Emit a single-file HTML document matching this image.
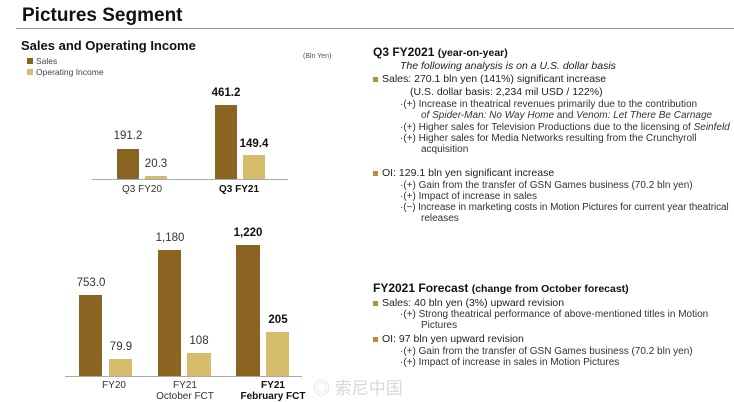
<!DOCTYPE html>
<html><head><meta charset="utf-8"><style>
body{margin:0;width:734px;height:402px;background:#fff;position:relative;overflow:hidden;font-family:"Liberation Sans","Noto Sans CJK SC",sans-serif;color:#222}
.a{position:absolute;white-space:nowrap}
.s{background:#8a6420;position:absolute}
.o{background:#d6bd6b;position:absolute}
.v{position:absolute;font-size:11.5px;width:60px;text-align:center;color:#333}
.b{font-weight:bold;color:#111}
.t{font-size:10px;color:#333}
.m{font-size:10.5px;color:#222}
.sq{display:inline-block;width:5px;height:5px;background:#b48f3e;margin-right:4px;vertical-align:middle}
</style></head><body>
<div class="a" style="left:22px;top:5px;font-size:19px;font-weight:bold;color:#111">Pictures Segment</div>
<div style="position:absolute;left:16px;top:28px;width:718px;height:1px;background:#999"></div>
<div class="a" style="left:21px;top:38px;font-size:13px;font-weight:bold;color:#111">Sales and Operating Income</div>
<div class="a" style="left:27px;top:56px;font-size:8.5px;color:#444"><span style="display:inline-block;width:6px;height:6px;background:#8a6420;margin-right:3px"></span>Sales</div>
<div class="a" style="left:27px;top:67px;font-size:8.5px;color:#444"><span style="display:inline-block;width:6px;height:6px;background:#d6bd6b;margin-right:3px"></span>Operating Income</div>
<div class="a" style="left:303px;top:53px;font-size:7px;color:#555">(Bln Yen)</div>
<div style="position:absolute;left:92px;top:179px;width:196px;height:1px;background:#aaa"></div>
<div class="s" style="left:117px;top:149px;width:22px;height:30px"></div>
<div class="o" style="left:145px;top:176px;width:22px;height:3px"></div>
<div class="s" style="left:215px;top:105px;width:22px;height:74px"></div>
<div class="o" style="left:243px;top:155px;width:22px;height:24px"></div>
<div class="v" style="left:98px;top:130px">191.2</div>
<div class="v" style="left:126px;top:158px">20.3</div>
<div class="v b" style="left:196px;top:87px">461.2</div>
<div class="v b" style="left:224px;top:138px">149.4</div>
<div class="v" style="left:112px;top:184px;font-size:10px">Q3 FY20</div>
<div class="v b" style="left:209px;top:184px;font-size:10px">Q3 FY21</div>
<div style="position:absolute;left:65px;top:376px;width:237px;height:1px;background:#aaa"></div>
<div class="s" style="left:79px;top:295px;width:23px;height:81px"></div>
<div class="o" style="left:109px;top:359px;width:23px;height:17px"></div>
<div class="s" style="left:158px;top:250px;width:23px;height:126px"></div>
<div class="o" style="left:187px;top:353px;width:24px;height:23px"></div>
<div class="s" style="left:236px;top:245px;width:24px;height:131px"></div>
<div class="o" style="left:266px;top:332px;width:23px;height:44px"></div>
<div class="v" style="left:61px;top:277px">753.0</div>
<div class="v" style="left:91px;top:341px">79.9</div>
<div class="v" style="left:140px;top:232px">1,180</div>
<div class="v" style="left:169px;top:335px">108</div>
<div class="v b" style="left:218px;top:227px">1,220</div>
<div class="v b" style="left:248px;top:314px">205</div>
<div class="v" style="left:84px;top:380px;font-size:10px">FY20</div>
<div class="v" style="left:155px;top:380px;font-size:10px;line-height:11px">FY21<br>October FCT</div>
<div class="v b" style="top:380px;font-size:10px;line-height:11px;width:80px;left:233px">FY21<br>February FCT</div>
<div class="a" style="left:373px;top:45px;font-size:12px;font-weight:bold;color:#111">Q3 FY2021 <span style="font-size:10.5px">(year-on-year)</span></div>
<div class="a m" style="left:400px;top:60px;font-style:italic">The following analysis is on a U.S. dollar basis</div>
<div class="a m" style="left:373px;top:73px"><span class="sq"></span>Sales: 270.1 bln yen (141%) significant increase</div>
<div class="a m" style="left:410px;top:86px">(U.S. dollar basis: 2,234 mil USD / 122%)</div>
<div class="a t" style="left:400px;top:99px">·(+) Increase in theatrical revenues primarily due to the contribution</div>
<div class="a t" style="left:421px;top:110px"><i>of Spider-Man: No Way Home</i> and <i>Venom: Let There Be Carnage</i></div>
<div class="a t" style="left:400px;top:122px">·(+) Higher sales for Television Productions due to the licensing of <i>Seinfeld</i></div>
<div class="a t" style="left:400px;top:133px">·(+) Higher sales for Media Networks resulting from the Crunchyroll</div>
<div class="a t" style="left:421px;top:144px">acquisition</div>
<div class="a m" style="left:373px;top:167px"><span class="sq"></span>OI: 129.1 bln yen significant increase</div>
<div class="a t" style="left:400px;top:180px">·(+) Gain from the transfer of GSN Games business (70.2 bln yen)</div>
<div class="a t" style="left:400px;top:191px">·(+) Impact of increase in sales</div>
<div class="a t" style="left:400px;top:202px;letter-spacing:-0.1px">·(−) Increase in marketing costs in Motion Pictures for current year theatrical</div>
<div class="a t" style="left:421px;top:213px">releases</div>
<div class="a" style="left:373px;top:281px;font-size:12px;font-weight:bold;color:#111">FY2021 Forecast <span style="font-size:10.5px">(change from October forecast)</span></div>
<div class="a m" style="left:373px;top:297px"><span class="sq"></span>Sales: 40 bln yen (3%) upward revision</div>
<div class="a t" style="left:400px;top:309px">·(+) Strong theatrical performance of above-mentioned titles in Motion</div>
<div class="a t" style="left:421px;top:320px">Pictures</div>
<div class="a m" style="left:373px;top:333px"><span class="sq"></span>OI: 97 bln yen upward revision</div>
<div class="a t" style="left:400px;top:346px">·(+) Gain from the transfer of GSN Games business (70.2 bln yen)</div>
<div class="a t" style="left:400px;top:357px">·(+) Impact of increase in sales in Motion Pictures</div>
<div class="a" style="left:313px;top:374px;font-size:17px;color:#d8d8d8">◎ 索尼中国</div>
</body></html>
